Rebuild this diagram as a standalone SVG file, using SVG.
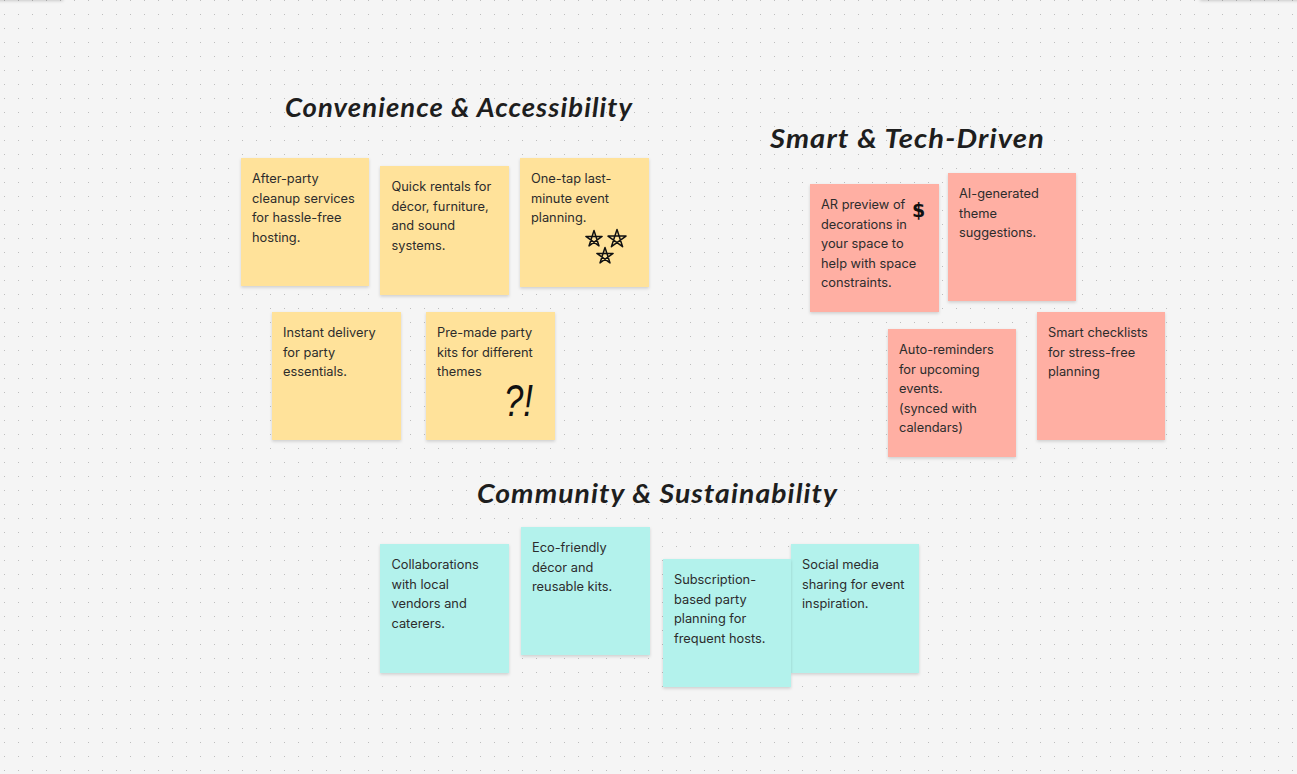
<svg xmlns="http://www.w3.org/2000/svg" width="1297" height="774" viewBox="0 0 1297 774">
<defs>
<pattern id="dots" x="0" y="0" width="14" height="14" patternUnits="userSpaceOnUse">
<rect x="4" y="0" width="1" height="1" fill="#bdbdbd"/>
</pattern>
<filter id="sh" x="-10%" y="-10%" width="120%" height="125%">
<feDropShadow dx="0" dy="1.5" stdDeviation="1.5" flood-color="#000" flood-opacity="0.16"/>
</filter>
<filter id="tb" x="-10%" y="-50%" width="120%" height="300%">
<feDropShadow dx="0" dy="1" stdDeviation="1.5" flood-color="#000" flood-opacity="0.18"/>
</filter>
</defs>
<style>
.y{fill:#FFE29A}
.r{fill:#FFAFA3}
.t{fill:#B3F2EC}
.note{filter:url(#sh)}
.tx{font-family:Inter,"Liberation Sans",sans-serif;font-size:12.8px;fill:#2c2c2c}
.h{font-family:Lato,"DejaVu Sans",sans-serif;font-style:italic;font-size:26px;font-weight:bold;fill:#1e1e1e;letter-spacing:1px}
.star{fill:none;stroke:#111;stroke-width:1.5;stroke-linejoin:round;stroke-linecap:round}
</style>
<rect width="1297" height="774" fill="#f5f5f5"/>
<rect width="1297" height="774" fill="url(#dots)"/>
<rect x="-5" y="-20" width="68" height="20" fill="#f5f5f5" filter="url(#tb)"/>
<rect x="1200" y="-20" width="110" height="20" fill="#f5f5f5" filter="url(#tb)"/>

<g id="heading-convenience"><text class="h" x="285" y="117" textLength="348" lengthAdjust="spacingAndGlyphs">Convenience &amp; Accessibility</text></g>
<g id="heading-smart"><text class="h" x="770" y="148" textLength="275" lengthAdjust="spacingAndGlyphs">Smart &amp; Tech-Driven</text></g>
<g id="heading-community"><text class="h" x="477" y="503" textLength="361" lengthAdjust="spacingAndGlyphs">Community &amp; Sustainability</text></g>

<g id="note-afterparty"><rect class="note y" x="241" y="158" width="128" height="128"/>
<text class="tx" y="183"><tspan x="252">After-party</tspan><tspan x="252" dy="19.5">cleanup services</tspan><tspan x="252" dy="19.5">for hassle-free</tspan><tspan x="252" dy="19.5">hosting.</tspan></text></g>

<g id="note-rentals"><rect class="note y" x="380" y="166" width="129" height="129"/>
<text class="tx" y="191"><tspan x="391.5">Quick rentals for</tspan><tspan x="391.5" dy="19.5">décor, furniture,</tspan><tspan x="391.5" dy="19.5">and sound</tspan><tspan x="391.5" dy="19.5">systems.</tspan></text></g>

<g id="note-onetap"><rect class="note y" x="520" y="158" width="129" height="129"/>
<text class="tx" y="183"><tspan x="531">One-tap last-</tspan><tspan x="531" dy="19.5">minute event</tspan><tspan x="531" dy="19.5">planning.</tspan></text>
<path class="star" d="M594,230.5 L599,245.9 L585.9,236.4 L602.1,236.4 L589,245.9 Z"/>
<path class="star" d="M617,229.5 L622.6,246.7 L608,236.1 L626,236.1 L611.4,246.7 Z"/>
<path class="star" d="M605,247.5 L610,262.9 L596.9,253.4 L613.1,253.4 L600,262.9 Z"/>
</g>

<g id="note-instant"><rect class="note y" x="272" y="312" width="129" height="128"/>
<text class="tx" y="337"><tspan x="283">Instant delivery</tspan><tspan x="283" dy="19.5">for party</tspan><tspan x="283" dy="19.5">essentials.</tspan></text></g>

<g id="note-premade"><rect class="note y" x="426" y="312" width="129" height="128"/>
<text class="tx" y="337"><tspan x="437">Pre-made party</tspan><tspan x="437" dy="19.5">kits for different</tspan><tspan x="437" dy="19.5">themes</tspan></text>
<text x="504" y="416" font-family="'Liberation Sans',sans-serif" font-size="44" font-style="italic" fill="#111" textLength="29" lengthAdjust="spacingAndGlyphs">?!</text></g>

<g id="note-ar"><rect class="note r" x="810" y="184" width="129" height="128"/>
<text class="tx" y="209"><tspan x="821">AR preview of</tspan><tspan x="821" dy="19.5">decorations in</tspan><tspan x="821" dy="19.5">your space to</tspan><tspan x="821" dy="19.5">help with space</tspan><tspan x="821" dy="19.5">constraints.</tspan></text>
<text x="912" y="217" font-family="'DejaVu Sans',sans-serif" font-size="19" font-weight="bold" fill="#111">$</text></g>

<g id="note-ai"><rect class="note r" x="948" y="173" width="128" height="128"/>
<text class="tx" y="198"><tspan x="959">AI-generated</tspan><tspan x="959" dy="19.5">theme</tspan><tspan x="959" dy="19.5">suggestions.</tspan></text></g>

<g id="note-reminders"><rect class="note r" x="888" y="329" width="128" height="128"/>
<text class="tx" y="354"><tspan x="899">Auto-reminders</tspan><tspan x="899" dy="19.5">for upcoming</tspan><tspan x="899" dy="19.5">events.</tspan><tspan x="899" dy="19.5">(synced with</tspan><tspan x="899" dy="19.5">calendars)</tspan></text></g>

<g id="note-checklists"><rect class="note r" x="1037" y="312" width="128" height="128"/>
<text class="tx" y="337"><tspan x="1048">Smart checklists</tspan><tspan x="1048" dy="19.5">for stress-free</tspan><tspan x="1048" dy="19.5">planning</tspan></text></g>

<g id="note-collab"><rect class="note t" x="380" y="544" width="129" height="129"/>
<text class="tx" y="569"><tspan x="391.5">Collaborations</tspan><tspan x="391.5" dy="19.5">with local</tspan><tspan x="391.5" dy="19.5">vendors and</tspan><tspan x="391.5" dy="19.5">caterers.</tspan></text></g>

<g id="note-eco"><rect class="note t" x="521" y="527" width="129" height="128"/>
<text class="tx" y="552"><tspan x="532">Eco-friendly</tspan><tspan x="532" dy="19.5">décor and</tspan><tspan x="532" dy="19.5">reusable kits.</tspan></text></g>

<g id="note-social"><rect class="note t" x="791" y="544" width="128" height="129"/>
<text class="tx" y="569"><tspan x="802">Social media</tspan><tspan x="802" dy="19.5">sharing for event</tspan><tspan x="802" dy="19.5">inspiration.</tspan></text></g>

<g id="note-subscription"><rect class="note t" x="663" y="559" width="128" height="128"/>
<text class="tx" y="584"><tspan x="674">Subscription-</tspan><tspan x="674" dy="19.5">based party</tspan><tspan x="674" dy="19.5">planning for</tspan><tspan x="674" dy="19.5">frequent hosts.</tspan></text></g>

<g id="connectors"></g>
</svg>
